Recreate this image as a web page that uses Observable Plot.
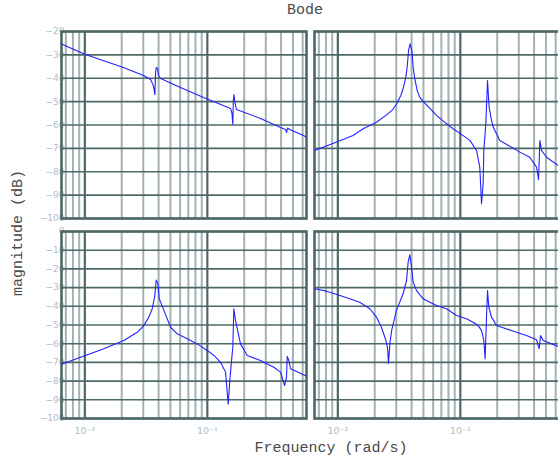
<!DOCTYPE html>
<html><head><meta charset="utf-8">
<script src="https://cdn.jsdelivr.net/npm/d3@7"></script>
<script src="https://cdn.jsdelivr.net/npm/@observablehq/plot@0.6"></script>
<style>
body{margin:0;background:#fff;overflow:hidden}
#c{position:relative;width:558px;height:462px;overflow:hidden;font-family:"Liberation Mono",monospace;color:#4a4a4a}
#c .t{position:absolute;white-space:nowrap;font-size:15px;line-height:15px}
#c svg{position:absolute;overflow:visible}
</style></head><body><div id="c">
<div class="t" id="title" style="left:305px;top:3px;transform:translateX(-50%)">Bode</div>
<div class="t" id="ylab" style="left:18px;top:233px;transform:translate(-50%,-50%) rotate(-90deg)">magnitude (dB)</div>
<div class="t" id="xlab" style="left:331px;top:441px;transform:translateX(-50%)">Frequency (rad/s)</div>
</div>
<script>
// ---- data ----
const freq11 = [0.00645,0.0101,0.0207,0.0301,0.0344,0.0355,0.0364,0.0373,0.0378,0.0383,0.0392,0.0400,0.0415,0.0604,0.0931,0.155,0.159,0.1615,0.163,0.165,0.168,0.173,0.272,0.396,0.435,0.443,0.452,0.469,0.610,0.645];
const mag11  = [-25.3,-29.8,-35.4,-38.8,-40.5,-42.0,-43.5,-47.0,-37.5,-35.4,-35.8,-38.8,-40.1,-44.0,-48.2,-52.9,-55.1,-59.8,-49.5,-47.0,-50.4,-53.4,-57.2,-61.1,-61.9,-63.2,-61.3,-61.9,-64.5,-65.3];

const freq12 = [0.00645,0.00945,0.0133,0.0161,0.0207,0.02465,0.02812,0.0303,0.03268,0.0341,0.0359,0.0368,0.0378,0.0389,0.0402,0.0412,0.0425,0.0444,0.0467,0.0497,0.0564,0.0639,0.0747,0.0873,0.1028,0.1196,0.1356,0.1442,0.1489,0.1535,0.1555,0.1615,0.1655,0.1667,0.1718,0.1797,0.1853,0.2101,0.306,0.369,0.419,0.435,0.446,0.460,0.506,0.629,0.645];
const mag12  = [-70.9,-67.6,-64.5,-61.6,-58.8,-55.9,-53.4,-50.8,-47.4,-44.5,-39.5,-35.3,-28.1,-25.3,-28.1,-35.3,-40.2,-45.2,-48.2,-49.9,-52.9,-55.9,-58.9,-61.6,-64.1,-66.6,-70.9,-78.0,-93.7,-85.2,-70.9,-59.5,-45.2,-41.0,-52.4,-58.0,-60.9,-66.6,-71.6,-73.8,-78.0,-83.4,-66.6,-70.9,-73.8,-77.3,-77.6];

const freq21 = [0.00645,0.0101,0.01429,0.0208,0.02679,0.0303,0.0333,0.0355,0.0371,0.0378,0.0383,0.0395,0.0405,0.0442,0.0501,0.0568,0.0685,0.0827,0.0998,0.1130,0.1282,0.1408,0.1481,0.1527,0.1567,0.1615,0.1645,0.1699,0.1866,0.2117,0.2718,0.308,0.349,0.396,0.427,0.443,0.449,0.463,0.478,0.645];
const mag21  = [-71.0,-66.3,-62.7,-58.3,-53.9,-50.3,-45.8,-41.3,-35.1,-30.0,-26.0,-28.0,-36.0,-42.2,-51.2,-54.7,-57.4,-60.1,-63.6,-66.3,-69.9,-75.2,-92.3,-79.7,-70.8,-61.9,-41.3,-47.6,-60.1,-66.3,-69.0,-70.8,-72.6,-75.2,-82.4,-77.9,-66.8,-69.0,-73.4,-77.3];

const freq22 = [0.00645,0.00809,0.0104,0.01253,0.0151,0.01825,0.0207,0.0227,0.0247,0.0255,0.0259,0.0266,0.0275,0.0301,0.0341,0.0364,0.0375,0.0387,0.0400,0.0412,0.0439,0.0497,0.0564,0.0639,0.0771,0.0931,0.1123,0.1272,0.1397,0.1489,0.1555,0.1594,0.1636,0.1667,0.1709,0.1797,0.1974,0.2236,0.2875,0.347,0.419,0.440,0.452,0.474,0.629,0.645];
const mag22  = [-30.6,-31.9,-34.2,-36.0,-37.8,-41.3,-45.8,-51.2,-58.3,-62.7,-70.5,-60.1,-52.9,-42.2,-33.3,-26.2,-16.4,-12.5,-19.1,-27.1,-31.6,-36.0,-37.8,-39.6,-41.3,-44.9,-46.7,-48.5,-50.3,-52.9,-58.3,-68.1,-45.8,-31.6,-40.5,-45.8,-50.3,-51.5,-53.9,-55.6,-57.9,-62.7,-55.6,-58.3,-61.5,-61.8];

const xDomain = [0.00645, 0.645];
const majorTicks = [0.01, 0.1];
const minorTicks = [0.007,0.008,0.009,0.02,0.03,0.04,0.05,0.06,0.07,0.08,0.09,0.2,0.3,0.4,0.5,0.6];
const yTicksTop = [-20,-30,-40,-50,-60,-70,-80,-90,-100];
const yTicksBottom = [0,-10,-20,-30,-40,-50,-60,-70,-80,-90,-100];
const tickExp = {"0.01":"⁻²","0.1":"⁻¹"};

const DARK = "#4e6868", LIGHT = "#a2b2b2", TICKTXT = "#b0bcbf", LINE = "#2222ff";
const PW = 245, PH = 187;

function panel(freq, mag, yDomain, yTicks, showY, showX, px, py) {
  const mL = 40, mR = 4, mT = 4, mB = 26;
  const data = freq.map((f, i) => ({f, m: mag[i]}));
  const marks = [
    Plot.ruleX(minorTicks, {stroke: LIGHT, strokeWidth: 2}),
    Plot.ruleY(yTicks, {stroke: DARK, strokeWidth: 1.6}),
    Plot.ruleX(majorTicks, {stroke: DARK, strokeWidth: 2.2}),
    Plot.frame({stroke: DARK, strokeWidth: 2.6}),
    Plot.line(data, {x: "f", y: "m", stroke: LINE, strokeWidth: 1.1, clip: true})
  ];
  if (showY) marks.unshift(Plot.axisY(yTicks, {label: null, tickSize: 0, tickPadding: -3, fontSize: 9, color: TICKTXT, tickFormat: d => d === 0 ? "0" : "\u2212" + Math.abs(d)}));
  if (showX) marks.unshift(Plot.axisX(majorTicks, {label: null, tickSize: 0, tickPadding: 9, fontSize: 9.5, color: TICKTXT, tickFormat: d => "10" + tickExp[String(d)]}));
  const svg = Plot.plot({
    width: mL + PW + mR, height: mT + PH + mB,
    marginLeft: mL, marginRight: mR, marginTop: mT, marginBottom: mB,
    style: {fontFamily: "DejaVu Sans, sans-serif", background: "transparent", overflow: "visible"},
    x: {type: "log", domain: xDomain, axis: null},
    y: {domain: yDomain, axis: null},
    marks
  });
  svg.style.left = (px - mL) + "px";
  svg.style.top = (py - mT) + "px";
  document.getElementById("c").appendChild(svg);
}

panel(freq11, mag11, [-100, -20], yTicksTop, true, false, 61, 31);
panel(freq12, mag12, [-100, -20], yTicksTop, false, false, 314, 31);
panel(freq21, mag21, [-100, 0], yTicksBottom, true, true, 61, 231);
panel(freq22, mag22, [-100, 0], yTicksBottom, false, true, 314, 231);
</script></body></html>
